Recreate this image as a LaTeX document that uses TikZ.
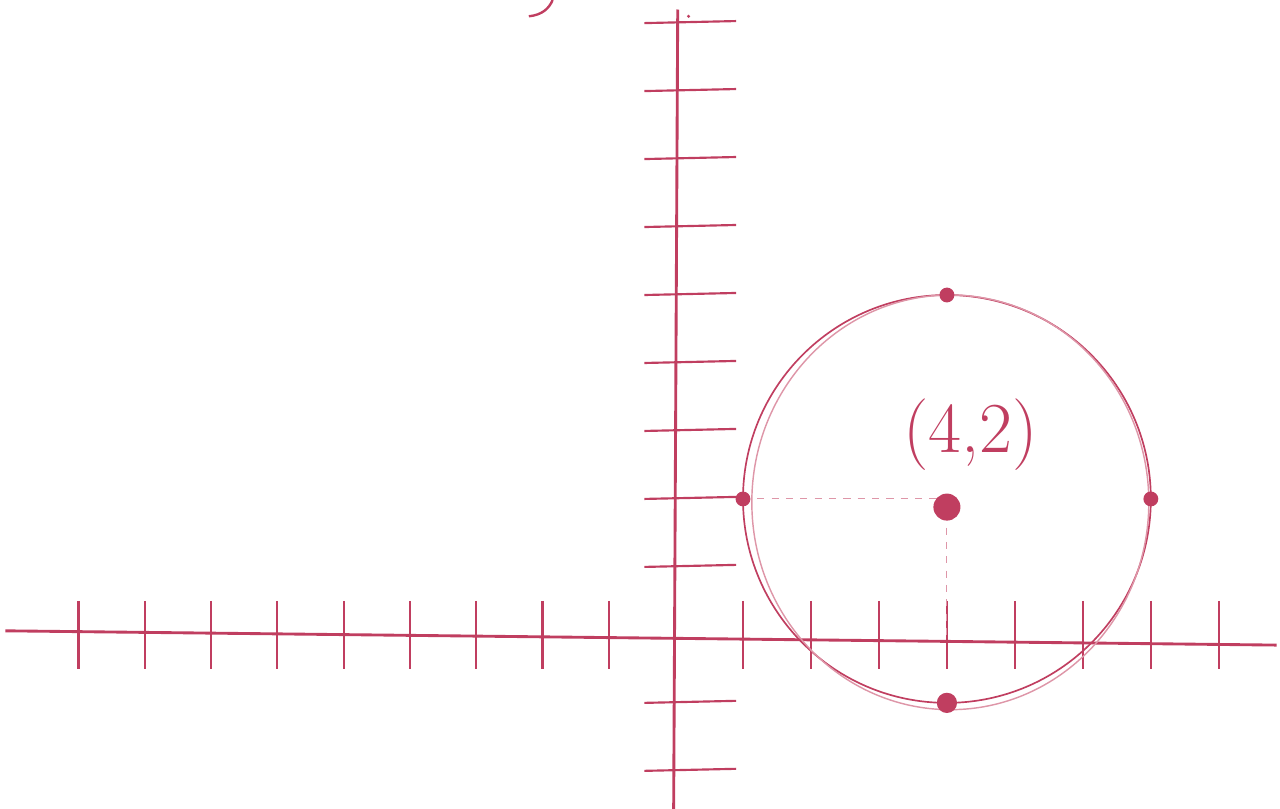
\documentclass[tikz,border=0pt]{standalone}
\usepackage{tikz}
\usetikzlibrary{positioning}
\definecolor{InkRed}{RGB}{192, 62, 96}
\definecolor{InkPale}{RGB}{222, 150, 168}

\begin{document}
\begin{tikzpicture}[x=1cm, y=1cm]
    \useasboundingbox (-9.93,-2.56) rectangle (8.90,9.34);

    % Axes
    \draw[InkRed, line width=1.2pt] (-9.85,0.06) -- (8.85,-0.15);
    \draw[InkRed, line width=1.2pt] (0.04,9.2) -- (-0.02,-2.56);
    \node[circle, fill=InkRed, inner sep=0.5pt] (ytop) at (0.2,9.1) {};

    % Ticks on the x axis
    \foreach \i in {-9,...,-1}
        \draw[InkRed, line width=0.9pt] (\i*0.975,0.5) -- (\i*0.975,-0.5);
    \foreach \i in {1,2,...,8}
        \draw[InkRed, line width=0.9pt] (\i,0.5) -- (\i,-0.5);

    % Ticks on the y axis
    \foreach \j in {-2,-1,1,2,...,9}
        \draw[InkRed, line width=0.9pt] (-0.45,\j) -- (0.9,\j+0.03);

    % Circle, traced twice
    \coordinate (center) at (4,2);
    \draw[InkRed, line width=0.7pt] (center) circle (3);
    \draw[InkPale, line width=0.6pt] (4.05,1.95) ellipse (2.92 and 3.05);

    % Guide lines to the axes
    \draw[InkPale, dashed, line width=0.4pt] (1,2) -- (center);
    \draw[InkPale, dashed, line width=0.4pt] (center) -- (4,0);

    % Points on the circle
    \node[circle, fill=InkRed, inner sep=2.2pt] (ptop) at (4,5) {};
    \node[circle, fill=InkRed, inner sep=2.2pt] (pleft) at (1,2) {};
    \node[circle, fill=InkRed, inner sep=2.2pt] (pright) at (7,2) {};
    \node[circle, fill=InkRed, inner sep=3pt] (pbottom) at (4,-1) {};

    % Centre and its label
    \node[circle, fill=InkRed, inner sep=4pt] (pcenter) at (4,1.88) {};
    \node[InkRed, font=\fontsize{30}{32}\selectfont] (lcenter) at (4.35,2.95) {(4,2)};

    % Scribble at the top edge
    \draw[InkRed, line width=1pt] (-2.15,9.1) .. controls (-1.95,9.12) and (-1.85,9.22) .. (-1.8,9.34);
\end{tikzpicture}
\end{document}
